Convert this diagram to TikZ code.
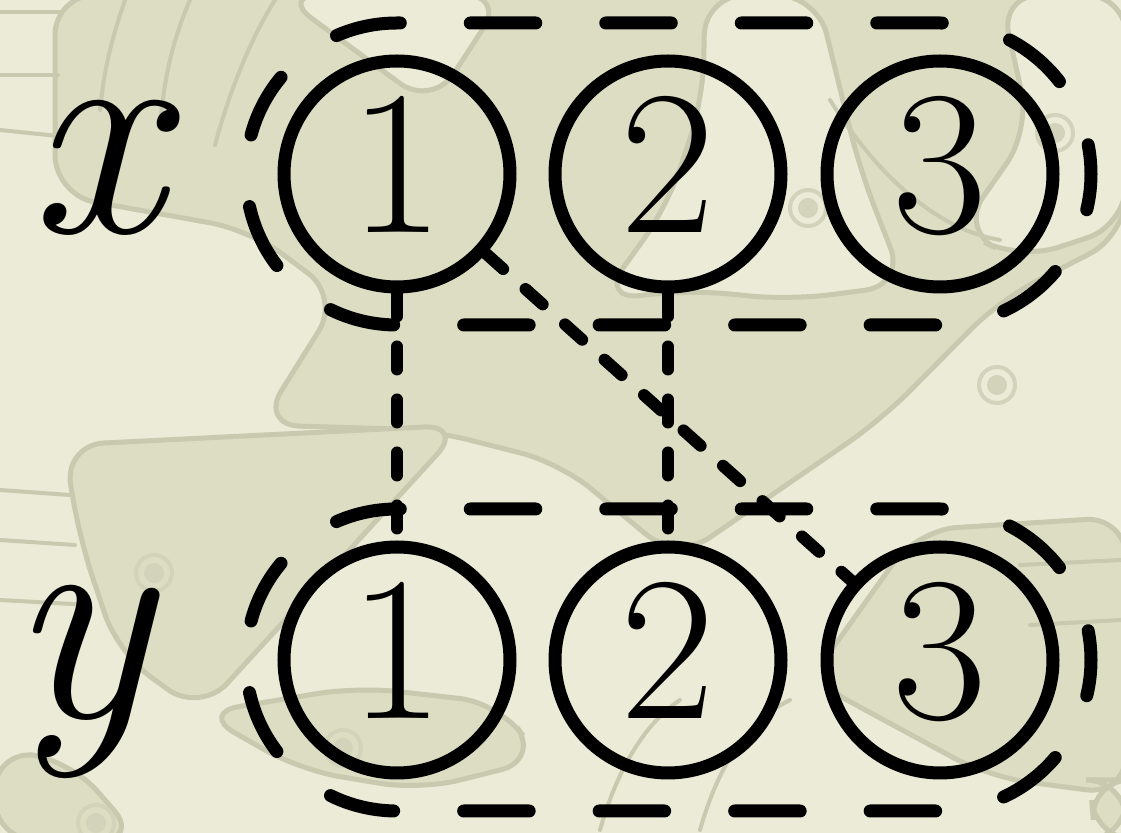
\documentclass[tikz,border=0pt]{standalone}
\usepackage{fontspec}
\usetikzlibrary{calc}
\definecolor{bglight}{HTML}{EBEBD7}
\definecolor{bgdark}{HTML}{DDDDC3}
\definecolor{bgline}{HTML}{C9C9AF}
\definecolor{bgdot}{HTML}{D3D3BB}
\begin{document}
\begin{tikzpicture}[x=0.5pt,y=-0.5pt,
  num/.style={circle, draw, line width=6.5pt, minimum size=113pt, inner sep=0pt,
    text height=66pt, text depth=7.5pt, font=\fontsize{103}{103}\selectfont},
  lbl/.style={anchor=base, inner sep=0pt, font=\fontsize{150}{150}\selectfont\itshape},
  grp/.style={line width=6.5pt, dash pattern=on 32.75pt off 35pt, dash phase=48pt, line cap=round},
  link/.style={line width=6pt, dash pattern=on 11.5pt off 15pt, line cap=round},
  dk/.style={fill=bgdark, draw=bgline, line width=2.5pt, rounded corners=20pt},
  lt/.style={fill=bglight, draw=bgline, line width=2.5pt, rounded corners=20pt},
  thin/.style={draw=bgline, line width=2pt, line cap=round},
  dotring/.style={draw=bgdot, line width=2pt},
  dotfill/.style={fill=bgdot}]
\useasboundingbox (0,0) rectangle (1121,833);
\fill[bglight] (0,0) rectangle (1121,833);
% background pattern (approximate)
\begin{scope}
\clip (0,0) rectangle (1121,833);
\path[dk] (55,-5) -- (1126,-5) -- (1126,235) -- (1000,300) -- (881,420) -- (677,560) -- (560,463) -- (430,430) -- (260,425) -- (340,297) -- (250,230) -- (55,195) -- cycle;
\path[lt] (280,-5) -- (432,107) -- (505,-5) -- cycle;
\path[lt] (705,-5) -- (817,-5) -- (860,170) -- (905,285) -- (790,300) -- (690,290) -- (600,300) -- (667,207) -- (703,100) -- cycle;
\path[lt] (1000,-5) -- (1126,-5) -- (1126,225) -- (1020,260) -- (960,230) -- (1030,130) -- cycle;
\path[dk] (64,445) -- (464,425) -- (200,713) -- (118,653) -- (80,540) -- cycle;
\path[dk] (1126,517) -- (917,530) -- (810,680) -- (989,777) -- (1126,795) -- cycle;
\path[dk] (200,713) -- (357,687) -- (500,703) -- (540,760) -- (420,790) -- (300,770) -- cycle;
\path[dk] (-5,750) -- (70,760) -- (140,840) -- (-5,840) -- cycle;
\path[dk] (1090,780) -- (1126,780) -- (1126,840) -- (1095,840) -- cycle;
\draw[thin] (0,12) -- (62,12);
\draw[thin] (0,75) -- (58,75);
\draw[thin] (0,130) -- (58,136);
\draw[thin] (100,110) .. controls (105,60) and (115,30) .. (125,0);
\draw[thin] (160,125) .. controls (165,70) and (175,35) .. (190,0);
\draw[thin] (215,145) .. controls (230,90) and (250,40) .. (275,0);
\draw[thin] (0,490) -- (70,495);
\draw[thin] (0,540) -- (75,545);
\draw[thin] (0,600) -- (90,605);
\draw[thin] (1121,560) -- (1020,565);
\draw[thin] (1121,620) -- (1030,625);
\draw[thin] (600,830) .. controls (620,760) and (650,720) .. (680,700);
\draw[thin] (700,830) .. controls (720,760) and (750,720) .. (790,700);
\draw[thin] (830,100) .. controls (880,180) and (940,230) .. (1000,240);
\draw[dotring] (808,208) circle[radius=9pt];
\fill[dotfill] (808,208) circle[radius=5pt];
\draw[dotring] (1055,133) circle[radius=9pt];
\fill[dotfill] (1055,133) circle[radius=5pt];
\draw[dotring] (997,385) circle[radius=9pt];
\fill[dotfill] (997,385) circle[radius=5pt];
\draw[dotring] (154,573) circle[radius=9pt];
\fill[dotfill] (154,573) circle[radius=5pt];
\draw[dotring] (343,748) circle[radius=9pt];
\fill[dotfill] (343,748) circle[radius=5pt];
\draw[dotring] (96,823) circle[radius=9pt];
\fill[dotfill] (96,823) circle[radius=5pt];
\end{scope}
% labels
\node[lbl] (xl) at (96,233) {x};
\node[lbl] (yl) at (80,718) {y};
% nodes
\node[num] (x1) at (397,174) {1};
\node[num] (x2) at (668,174) {2};
\node[num] (x3) at (940,174) {3};
\node[num] (y1) at (397,660) {1};
\node[num] (y2) at (668,660) {2};
\node[num] (y3) at (940,660) {3};
% groups
\draw[grp] ($(x1)+(-151,0)$) arc[start angle=180,end angle=90,radius=75.5pt] -- ($(x3)+(0,-151)$) arc[start angle=90,end angle=-90,radius=75.5pt] -- ($(x1)+(0,151)$) arc[start angle=-90,end angle=-180,radius=75.5pt] -- cycle;
\draw[grp] ($(y1)+(-151,0)$) arc[start angle=180,end angle=90,radius=75.5pt] -- ($(y3)+(0,-151)$) arc[start angle=90,end angle=-90,radius=75.5pt] -- ($(y1)+(0,151)$) arc[start angle=-90,end angle=-180,radius=75.5pt] -- cycle;
% connectors
\draw[link] (x1) -- (y1);
\draw[link] (x2) -- (y2);
\draw[link] (x1) -- (y3);
\end{tikzpicture}
\end{document}
